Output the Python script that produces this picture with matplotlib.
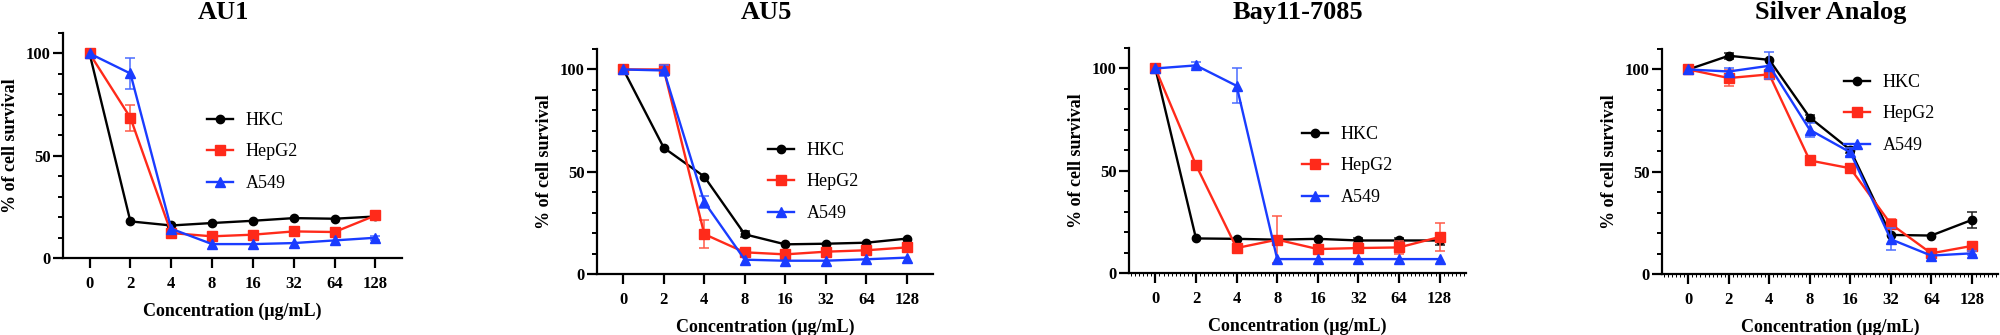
import numpy as np
import matplotlib.pyplot as plt
from matplotlib.ticker import MultipleLocator

plt.rcParams['font.family'] = ['Liberation Serif', 'DejaVu Serif']

CONC_LABELS = ["0", "2", "4", "8", "16", "32", "64", "128"]
CELL_LINES = ["HKC", "HepG2", "A549"]
TITLES = ["AU1", "AU5", "Bay11-7085", "Silver Analog"]

# % of cell survival, one list per cell line
au1_hkc = [100, 17.9, 15.9, 17.1, 18.2, 19.5, 19.2, 20.3]
au1_hepg2 = [100, 68.6, 12.2, 10.6, 11.4, 13.0, 12.7, 20.8]
au1_a549 = [100, 90.2, 14.3, 6.8, 6.8, 7.3, 8.6, 9.9]
au1_hkc_err = [0, 0, 0, 0, 0, 0, 0, 0]
au1_hepg2_err = [0, 6.3, 0, 0, 0, 0, 0, 1.5]
au1_a549_err = [0, 7.5, 0, 0, 0, 0, 0, 1.0]

au5_hkc = [100, 61.7, 47.6, 19.4, 14.5, 14.8, 15.3, 17.3]
au5_hepg2 = [100, 100, 19.5, 10.6, 9.6, 10.9, 11.6, 13.0]
au5_a549 = [100, 99.5, 35.2, 7.0, 6.5, 6.5, 7.2, 8.0]
au5_hkc_err = [0, 0, 0, 1.5, 0, 0, 0, 0]
au5_hepg2_err = [0, 2.0, 7.0, 0, 0, 0, 0, 0]
au5_a549_err = [0, 2.5, 3.0, 0, 0, 0, 0, 0]

bay_hkc = [100, 16.9, 16.7, 16.3, 16.7, 15.9, 15.9, 15.9]
bay_hepg2 = [100, 52.8, 12.2, 16.3, 11.7, 12.2, 12.5, 17.6]
bay_a549 = [100, 101.5, 91.5, 6.8, 6.8, 6.8, 6.8, 6.8]
bay_hkc_err = [0, 0, 0, 0, 0, 1.0, 1.0, 2.0]
bay_hepg2_err = [0, 0, 0, 11.5, 2.0, 2.5, 3.0, 6.7]
bay_a549_err = [0, 1.5, 8.5, 0, 0, 0, 0, 0]

ag_hkc = [100, 106.7, 104.7, 76.5, 60.7, 19.1, 18.8, 26.4]
ag_hepg2 = [100, 95.8, 97.6, 55.5, 51.7, 24.5, 10.1, 13.7]
ag_a549 = [100, 99.0, 101.8, 70.5, 59.5, 17.0, 9.0, 10.1]
ag_hkc_err = [0, 1.5, 0, 1.0, 1.5, 0, 0, 4.0]
ag_hepg2_err = [0, 3.9, 2.0, 1.5, 0, 2.5, 0, 0]
ag_a549_err = [0, 1.5, 6.5, 3.5, 2.0, 5.5, 0, 1.0]

panels = [
    ([au1_hkc, au1_hepg2, au1_a549], [au1_hkc_err, au1_hepg2_err, au1_a549_err]),
    ([au5_hkc, au5_hepg2, au5_a549], [au5_hkc_err, au5_hepg2_err, au5_a549_err]),
    ([bay_hkc, bay_hepg2, bay_a549], [bay_hkc_err, bay_hepg2_err, bay_a549_err]),
    ([ag_hkc, ag_hepg2, ag_a549], [ag_hkc_err, ag_hepg2_err, ag_a549_err]),
]

colors = ["#000000", "#ff2a1a", "#1a3cff"]
err_colors = ["#202020", "#ff5a48", "#4a6cff"]
markers = ["o", "s", "^"]

W, H = 2000, 335
# axes boxes in pixels: left, top, right, bottom
boxes = [(63, 33, 402, 258), (597, 49, 933, 274), (1129, 48, 1466, 273), (1662, 49, 1998, 274)]
title_x = [223, 766, 1298, 1831]
legend_xy = [(207, 112), (768, 142), (1302, 126), (1844, 74)]

fig = plt.figure(figsize=(20, 3.35), dpi=100)

for i, (series, errs) in enumerate(panels):
    l, t, r, b = boxes[i]
    ax = fig.add_axes([l / W, 1 - b / H, (r - l) / W, (b - t) / H])
    x = np.arange(len(CONC_LABELS))
    for j in range(3):
        y = np.array(series[j])
        e = np.array(errs[j])
        m = e > 0
        if m.any():
            ax.errorbar(x[m], y[m], yerr=e[m], fmt='none', ecolor=err_colors[j],
                        elinewidth=1.1, capsize=3.5, capthick=1.1, zorder=2 + j)
        ax.plot(x, y, color=colors[j], marker=markers[j], markersize=6.5 if j else 6,
                linewidth=1.7, label=CELL_LINES[j], zorder=2.5 + j)

    ax.set_xlim(-0.65, 7.65)
    ax.set_ylim(0, 110)
    ax.set_xticks(x)
    ax.set_xticklabels(CONC_LABELS)
    ax.set_yticks([0, 50, 100])
    ax.yaxis.set_minor_locator(MultipleLocator(10))
    if i >= 2:
        # the last two panels have a fine row of minor ticks on x
        ax.xaxis.set_minor_locator(MultipleLocator(0.1))
        ax.tick_params(axis='x', which='minor', length=2.5, width=0.7)
    else:
        ax.tick_params(axis='x', which='minor', length=0)
    ax.spines['top'].set_visible(False)
    ax.spines['right'].set_visible(False)
    ax.spines['left'].set_linewidth(1.6)
    ax.spines['bottom'].set_linewidth(1.6)
    ax.tick_params(axis='both', which='major', length=7, width=1.6, labelsize=12)
    ax.tick_params(axis='y', which='minor', length=3.6, width=1.4)
    ax.tick_params(axis='x', which='major', pad=6)
    ax.tick_params(axis='y', which='major', pad=2)
    for lab in ax.get_xticklabels() + ax.get_yticklabels():
        lab.set_fontweight('bold')

    ax.set_xlabel("Concentration (\u03bcg/mL)", fontsize=13, fontweight='bold', labelpad=8)
    ax.set_ylabel("% of cell survival", fontsize=13, fontweight='bold', labelpad=4.5)

    fig.text(title_x[i] / W, 1 - 19 / H, TITLES[i], fontsize=19, fontweight='bold',
             ha='center', va='baseline')

    lx, ly = legend_xy[i]
    ax.legend(loc='upper left', bbox_to_anchor=(lx / W, 1 - ly / H), bbox_transform=fig.transFigure,
              frameon=False, fontsize=13, borderpad=0, borderaxespad=0,
              handlelength=1.45, handletextpad=0.7, labelspacing=0.8)

fig.savefig("out.png", dpi=100)
